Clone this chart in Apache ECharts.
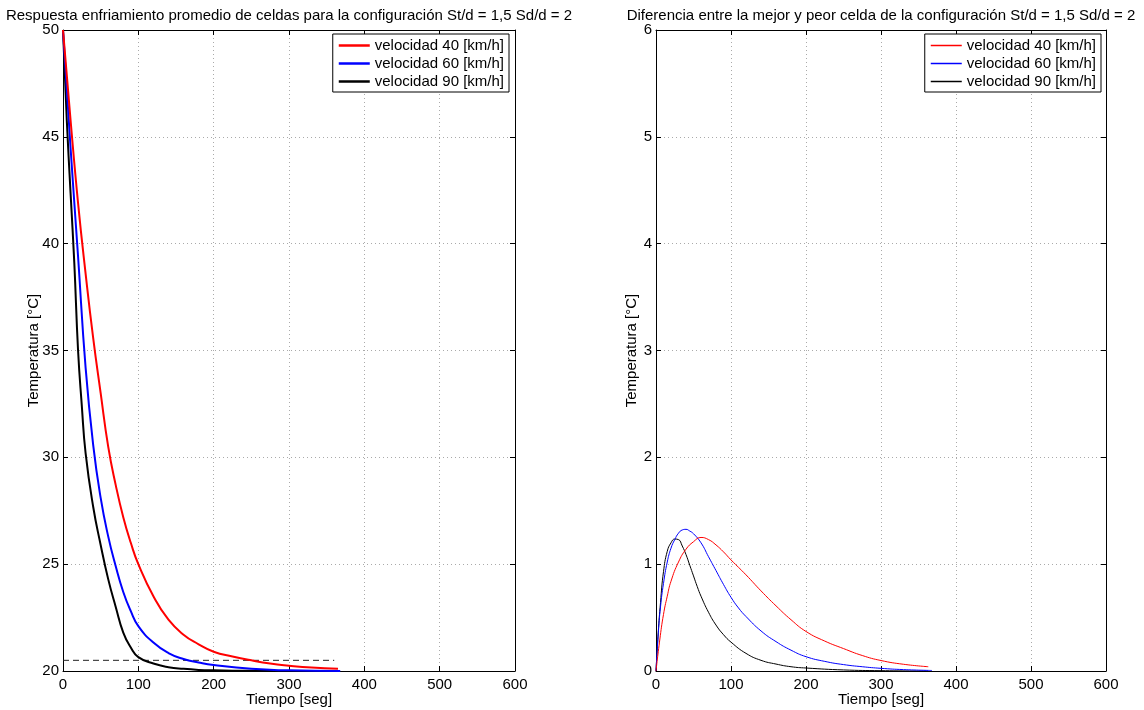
<!DOCTYPE html>
<html>
<head>
<meta charset="utf-8">
<script src="https://cdn.jsdelivr.net/npm/echarts@6/dist/echarts.min.js"></script>
<style>
  html, body { margin: 0; padding: 0; background: #fff; }
  #chart { width: 1144px; height: 710px; }
</style>
</head>
<body>
<div id="chart"></div>
<script>
// nombres de las series
var names = ["velocidad 40 [km/h]", "velocidad 60 [km/h]", "velocidad 90 [km/h]"];
var colors = ["#ff0000", "#0000ff", "#000000"];

// panel izquierdo: temperatura promedio [°C] vs tiempo [seg]
var tempT40 = [0, 10, 20, 30, 40, 50, 60, 70, 80, 90, 100, 120, 140, 160, 180, 200, 225, 250, 275, 300, 330, 365];
var temp40 = [50, 45.8, 41.9, 38.6, 35.6, 33.0, 30.5, 28.7, 27.2, 26.0, 25.0, 23.5, 22.4, 21.7, 21.25, 20.9, 20.68, 20.5, 20.35, 20.25, 20.16, 20.1];
var tempT60 = [0, 10, 20, 30, 40, 50, 60, 70, 80, 90, 100, 120, 140, 160, 180, 200, 250, 300, 368];
var temp60 = [50, 44.5, 39.4, 34.2, 30.6, 28.1, 26.3, 24.9, 23.7, 22.8, 22.1, 21.33, 20.84, 20.56, 20.4, 20.28, 20.1, 20.03, 20.0];
var tempT90 = [0, 5, 10, 15, 20, 25, 30, 40, 50, 60, 70, 80, 90, 100, 120, 140, 160, 180, 200, 250, 300, 362];
var temp90 = [50, 45.8, 42.4, 39.1, 35, 32.4, 30.2, 27.7, 25.9, 24.3, 23.0, 21.8, 21.1, 20.65, 20.35, 20.18, 20.1, 20.05, 20.03, 20.01, 20.0, 20.0];
var limiteT = [0, 360];
var limite = [20.5, 20.5];

// panel derecho: diferencia entre mejor y peor celda
var difT40 = [0, 5, 10, 15, 20, 30, 40, 50, 60, 70, 80, 90, 100, 120, 140, 160, 180, 200, 225, 250, 275, 300, 330, 363];
var dif40 = [0, 0.29, 0.53, 0.7, 0.84, 1.02, 1.14, 1.21, 1.25, 1.23, 1.18, 1.115, 1.04, 0.9, 0.75, 0.61, 0.48, 0.37, 0.28, 0.21, 0.145, 0.098, 0.063, 0.04];
var difT60 = [0, 3, 6, 10, 15, 20, 25, 30, 35, 40, 45, 50, 60, 70, 80, 90, 100, 110, 120, 140, 160, 180, 200, 225, 250, 275, 300, 330, 368];
var dif60 = [0, 0.35, 0.6, 0.82, 1.02, 1.15, 1.23, 1.29, 1.32, 1.326, 1.31, 1.285, 1.2, 1.07, 0.94, 0.81, 0.69, 0.59, 0.51, 0.375, 0.275, 0.195, 0.134, 0.09, 0.06, 0.04, 0.025, 0.013, 0.005];
var difT90 = [0, 3, 6, 10, 15, 20, 25, 30, 35, 40, 45, 50, 55, 60, 70, 80, 90, 100, 120, 140, 160, 180, 200, 250, 300, 362];
var dif90 = [0, 0.36, 0.64, 0.93, 1.12, 1.2, 1.235, 1.23, 1.17, 1.09, 0.99, 0.89, 0.79, 0.7, 0.55, 0.43, 0.34, 0.27, 0.165, 0.1, 0.065, 0.04, 0.028, 0.01, 0.003, 0];

var font = "Liberation Sans, Arial, sans-serif";

function pares(xs, ys) {
  var out = [];
  for (var i = 0; i < xs.length; i++) out.push([xs[i], ys[i]]);
  return out;
}

function ejeX(grid, pos, showLabel) {
  return {
    type: "value", gridIndex: grid, position: pos,
    min: 0, max: 600, interval: 100,
    name: showLabel ? "Tiempo [seg]" : "",
    nameLocation: "middle", nameGap: 21, nameMoveOverlap: false,
    nameTextStyle: { color: "#000", fontSize: 15, fontFamily: font },
    axisLine: { show: true, onZero: false, lineStyle: { color: "#000", width: 1 } },
    axisTick: { show: true, inside: true, length: 5, lineStyle: { color: "#000" } },
    axisLabel: { show: showLabel, color: "#000", fontSize: 15, fontFamily: font, margin: 6 },
    splitLine: { show: showLabel, lineStyle: { color: "#aaa", type: [1, 3] } }
  };
}

function ejeY(grid, pos, showLabel, min, max, interval, gap) {
  return {
    type: "value", gridIndex: grid, position: pos,
    min: min, max: max, interval: interval,
    name: showLabel ? "Temperatura [°C]" : "",
    nameLocation: "middle", nameGap: gap, nameMoveOverlap: false,
    nameTextStyle: { color: "#000", fontSize: 15, fontFamily: font },
    axisLine: { show: true, onZero: false, lineStyle: { color: "#000", width: 1 } },
    axisTick: { show: true, inside: true, length: 5, lineStyle: { color: "#000" } },
    axisLabel: { show: showLabel, color: "#000", fontSize: 15, fontFamily: font, margin: 4 },
    splitLine: { show: showLabel, lineStyle: { color: "#aaa", type: [1, 3] } }
  };
}

var series = [];
var izq = [pares(tempT40, temp40), pares(tempT60, temp60), pares(tempT90, temp90)];
var der = [pares(difT40, dif40), pares(difT60, dif60), pares(difT90, dif90)];
for (var i = 0; i < 3; i++) {
  series.push({
    name: names[i], type: "line", xAxisIndex: 0, yAxisIndex: 0,
    data: izq[i], smooth: 0.5, symbol: "none", clip: true,
    lineStyle: { color: colors[i], width: 2 }, itemStyle: { color: colors[i] },
    z: 10 - i
  });
}
series.push({
  name: "limite", type: "line", xAxisIndex: 0, yAxisIndex: 0,
  data: pares(limiteT, limite), symbol: "none",
  lineStyle: { color: "#222", width: 1, type: [6, 4] }, z: 3
});
for (var j = 0; j < 3; j++) {
  series.push({
    name: names[j] + " ", type: "line", xAxisIndex: 2, yAxisIndex: 2,
    data: der[j], smooth: 0.5, symbol: "none", clip: true,
    lineStyle: { color: colors[j], width: 1 }, itemStyle: { color: colors[j] },
    z: 10 - j
  });
}

var leyenda = {
  orient: "vertical", top: 34, icon: "rect",
  backgroundColor: "#fff", borderColor: "#000", borderWidth: 1, borderRadius: 0,
  padding: [3, 5, 2, 6], itemGap: 1, itemWidth: 31,
  textStyle: { color: "#000", fontSize: 15, fontFamily: font, lineHeight: 17 }
};

var option = {
  backgroundColor: "#fff",
  animation: false,
  title: [
    {
      text: "Respuesta enfriamiento promedio de celdas para la configuración St/d = 1,5 Sd/d = 2",
      left: 284, top: 3, textAlign: "center",
      textStyle: { color: "#000", fontSize: 15, fontWeight: "normal", fontFamily: font }
    },
    {
      text: "Diferencia entre la mejor y peor celda de la configuración St/d = 1,5 Sd/d = 2",
      left: 876, top: 3, textAlign: "center",
      textStyle: { color: "#000", fontSize: 15, fontWeight: "normal", fontFamily: font }
    }
  ],
  legend: [
    Object.assign({}, leyenda, { data: names, right: 635, itemHeight: 2.5 }),
    Object.assign({}, leyenda, {
      data: names.map(function (n) { return n + " "; }),
      formatter: function (n) { return n.trim(); },
      right: 43, itemHeight: 1.5
    })
  ],
  grid: [
    { left: 63, right: 629, top: 30, bottom: 39, containLabel: false, outerBoundsMode: "none" },
    { left: 656, right: 38, top: 30, bottom: 39, containLabel: false, outerBoundsMode: "none" }
  ],
  xAxis: [ejeX(0, "bottom", true), ejeX(0, "top", false), ejeX(1, "bottom", true), ejeX(1, "top", false)],
  yAxis: [
    ejeY(0, "left", true, 20, 50, 5, 22), ejeY(0, "right", false, 20, 50, 5, 22),
    ejeY(1, "left", true, 0, 6, 1, 17), ejeY(1, "right", false, 0, 6, 1, 17)
  ],
  series: series
};

var myChart = echarts.init(document.getElementById("chart"), null, { renderer: "canvas" });
myChart.setOption(option);
</script>
</body>
</html>
